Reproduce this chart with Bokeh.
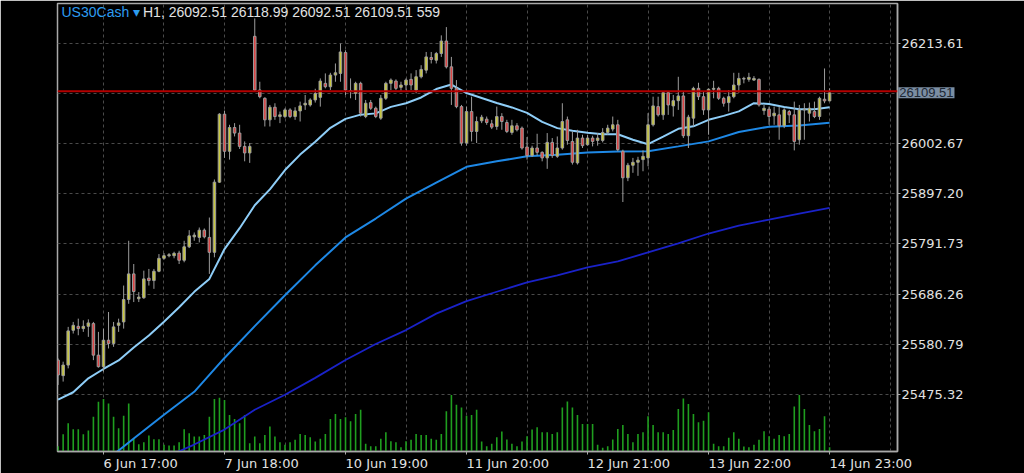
from bokeh.plotting import figure
from bokeh.models import Range1d, FixedTicker, Label, ColumnDataSource, Span, PrintfTickFormatter
from bokeh.embed import file_html
from bokeh.resources import INLINE

# ---- US30Cash, H1 bars (bar 0 = 6 Jun 17:00) ----
bar_index = list(range(-9, 145))

opens = [25547.5, 25514.9, 25537.1, 25610.2, 25618.6, 25613.8, 25618.6, 25624.3, 25558.0,
         25533.7, 25589.4, 25582.5, 25620.7, 25627.8, 25675.0, 25728.8, 25676.5, 25678.6, 25719.8,
         25714.8, 25734.4, 25761.6, 25767.0, 25767.0, 25772.6, 25757.4, 25785.8, 25806.7, 25805.5,
         25820.7, 25805.5, 25774.1, 25921.7, 26064.6, 25986.5, 26036.6, 26024.9, 25996.9, 25983.1,
         26228.3, 26115.4, 26098.0, 26052.7, 26079.2, 26059.6, 26059.6, 26073.6, 26059.6, 26071.5,
         26084.0, 26084.0, 26094.5, 26100.0, 26129.4, 26122.3, 26146.8, 26150.3, 26194.2, 26114.0,
         26108.5, 26129.4, 26059.6, 26088.9, 26077.1, 26056.3, 26098.0, 26129.4, 26134.2, 26121.0,
         26125.9, 26137.8, 26115.4, 26143.2, 26157.2, 26183.7, 26178.1, 26192.1, 26218.4, 26164.1,
         26118.9, 26080.5, 26004.0, 26070.1, 26028.3, 26050.6, 26054.2, 26044.3, 26038.7, 26059.6,
         26047.1, 26026.2, 26040.2, 26035.3, 25995.6, 25977.5, 25993.5, 25984.4, 25972.7, 26005.3,
         25976.0, 25993.5, 26052.7, 26007.3, 25962.2, 26014.4, 26000.4, 26014.4, 26009.4, 26009.4,
         26026.2, 26033.3, 26042.3, 25986.5, 25930.9, 25957.2, 25963.5, 25969.1, 25972.7, 26042.3,
         26080.5, 26063.2, 26109.8, 26082.0, 26093.0, 26102.9, 26019.3, 26056.3, 26118.9, 26101.4,
         26073.6, 26116.9, 26118.9, 26098.0, 26088.9, 26101.4, 26125.9, 26138.4, 26137.8, 26136.3,
         26137.8, 26072.1, 26075.1, 26061.1, 26063.2, 26040.2, 26070.1, 26063.2, 26010.9, 26073.6,
         26066.7, 26070.1, 26059.6, 26096.0, 26092.51]
highs = [25551.1, 25544.2, 25617.4, 25627.8, 25634.7, 25631.2, 25633.2, 25627.8, 25606.9,
         25613.8, 25648.7, 25627.8, 25634.7, 25704.3, 25798.4, 25749.6, 25690.5, 25735.6, 25739.2,
         25739.2, 25770.5, 25772.6, 25772.6, 25775.4, 25777.5, 25798.4, 25820.7, 25815.9, 25826.3,
         25824.3, 25847.3, 25927.3, 26066.7, 26072.1, 26042.3, 26045.8, 26042.3, 26007.3, 26004.0,
         26265.9, 26132.8, 26100.1, 26084.0, 26087.6, 26070.1, 26077.1, 26077.1, 26079.2, 26091.0,
         26105.0, 26098.0, 26118.0, 26139.8, 26150.3, 26151.6, 26171.2, 26213.0, 26199.0, 26139.8,
         26132.8, 26132.8, 26094.5, 26094.5, 26080.5, 26105.0, 26132.8, 26139.8, 26137.8, 26132.8,
         26139.8, 26150.3, 26157.2, 26167.6, 26195.4, 26195.4, 26195.4, 26230.3, 26247.7, 26185.0,
         26136.3, 26084.0, 26080.5, 26101.4, 26059.6, 26063.2, 26059.6, 26052.7, 26080.5, 26066.7,
         26052.7, 26052.7, 26045.8, 26038.7, 26016.5, 25998.4, 26023.4, 25986.5, 26024.9, 26014.4,
         26017.8, 26087.6, 26059.6, 26028.3, 26031.8, 26021.4, 26021.4, 26019.3, 26024.9, 26035.3,
         26042.3, 26059.6, 26052.7, 25990.0, 25962.2, 25972.7, 25975.0, 25988.5, 26066.7, 26101.4,
         26101.4, 26111.9, 26111.9, 26105.0, 26143.2, 26111.9, 26063.2, 26122.3, 26130.7, 26111.9,
         26118.9, 26134.8, 26122.3, 26101.4, 26115.4, 26151.6, 26151.6, 26143.2, 26151.6, 26144.7,
         26139.8, 26084.0, 26080.5, 26080.5, 26080.5, 26077.1, 26073.6, 26091.0, 26084.0, 26087.6,
         26088.9, 26091.0, 26101.4, 26160.7, 26118.99]
lows = [25495.3, 25502.4, 25530.2, 25603.4, 25599.8, 25606.9, 25596.4, 25547.5, 25531.7,
        25523.3, 25572.0, 25575.5, 25606.9, 25613.8, 25666.0, 25669.6, 25669.6, 25676.5, 25704.3,
        25697.4, 25732.3, 25758.6, 25763.7, 25761.6, 25749.6, 25753.2, 25783.1, 25798.4, 25795.0,
        25803.4, 25728.8, 25763.7, 25920.4, 25972.7, 25969.1, 26017.8, 25991.5, 25965.5, 25962.2,
        26111.2, 26098.0, 26038.7, 26038.7, 26052.7, 26045.8, 26056.3, 26056.3, 26052.7, 26049.2,
        26073.6, 26080.5, 26089.0, 26080.5, 26118.9, 26115.4, 26132.8, 26132.8, 26104.9, 26098.0,
        26094.5, 26059.6, 26056.3, 26073.6, 26056.3, 26052.7, 26094.5, 26115.4, 26115.4, 26113.9,
        26115.4, 26115.4, 26108.5, 26139.8, 26150.3, 26171.2, 26171.2, 26185.0, 26160.7, 26084.0,
        26077.1, 25998.4, 25998.4, 26007.3, 26004.0, 26045.8, 26042.3, 26033.3, 26031.8, 26031.8,
        26024.9, 26021.4, 26028.3, 25990.0, 25969.1, 25974.7, 25977.5, 25965.5, 25949.7, 25972.7,
        25972.7, 25990.0, 26000.4, 25958.7, 25958.7, 25993.5, 25998.4, 25996.9, 25998.4, 26005.3,
        26021.4, 26028.3, 25986.5, 25879.9, 25923.8, 25941.3, 25935.0, 25944.6, 25955.1, 26038.7,
        26059.6, 26052.7, 26063.2, 26059.6, 26073.6, 26014.4, 25993.5, 26038.7, 26094.5, 26063.2,
        26021.4, 26098.0, 26094.5, 26080.5, 26070.1, 26098.0, 26109.8, 26129.4, 26132.8, 26134.8,
        26080.5, 26063.2, 26042.3, 26042.3, 26010.9, 26035.3, 26045.8, 25988.5, 26000.4, 26010.9,
        26049.2, 26056.3, 26052.7, 26087.6, 26092.51]
closes = [25516.2, 25537.1, 25609.0, 25620.7, 25613.8, 25618.6, 25625.7, 25558.0, 25533.7,
          25589.4, 25582.5, 25617.4, 25625.7, 25675.0, 25728.8, 25691.8, 25680.0, 25718.3, 25714.8,
          25734.4, 25761.6, 25767.0, 25769.1, 25772.0, 25757.4, 25785.8, 25808.8, 25810.3, 25820.7,
          25806.7, 25774.1, 25921.7, 26064.6, 25986.5, 26036.6, 26024.9, 25996.9, 25983.1, 25996.9,
          26115.4, 26101.4, 26052.7, 26079.2, 26059.6, 26063.2, 26073.6, 26059.6, 26071.5, 26082.0,
          26087.6, 26094.5, 26108.0, 26134.2, 26122.3, 26146.8, 26151.6, 26195.4, 26115.4, 26112.0,
          26129.4, 26066.7, 26087.6, 26077.1, 26059.6, 26098.0, 26129.4, 26136.3, 26118.9, 26125.9,
          26136.3, 26125.9, 26143.2, 26158.7, 26185.0, 26179.6, 26192.1, 26218.4, 26164.1, 26118.9,
          26080.5, 26004.0, 26070.1, 26028.3, 26049.2, 26058.3, 26047.1, 26037.4, 26059.6, 26049.2,
          26028.3, 26040.2, 26031.8, 25993.5, 25977.5, 25993.5, 25984.4, 25972.7, 26005.3, 25977.5,
          25993.5, 26049.2, 26009.4, 25963.5, 26014.4, 25998.4, 26014.4, 26007.3, 26014.4, 26026.2,
          26035.3, 26042.3, 25990.0, 25930.9, 25957.2, 25963.5, 25968.0, 25976.0, 26042.3, 26082.0,
          26063.2, 26109.8, 26084.0, 26093.0, 26102.9, 26019.3, 26058.3, 26118.9, 26101.4, 26073.6,
          26116.9, 26118.9, 26098.0, 26087.6, 26101.4, 26125.9, 26139.8, 26139.8, 26142.0, 26139.8,
          26084.0, 26077.1, 26059.6, 26066.7, 26040.2, 26073.6, 26063.2, 26007.3, 26073.6, 26075.1,
          26077.1, 26059.6, 26098.0, 26092.51, 26109.51]
tick_volume = [700, 2250, 3680, 2900, 2900, 2250, 2730, 4550, 6500,
               6850, 6280, 4550, 3030, 4680, 6280, 1730, 950, 1210,
               2080, 1600, 1600, 870, 780, 780, 1210, 2900, 2380,
               1950, 1950, 2170, 4550, 6850, 7020, 6720, 4770, 4250,
               3680, 4770, 1080, 1950, 1080, 2170, 3250, 1950, 1210,
               870, 1210, 1520, 2300, 2170, 1860, 1300, 1650, 2300,
               4250, 4900, 4250, 4460, 3940, 4900, 5460, 1000, 690,
               690, 1650, 2510, 1340, 1210, 560, 1340, 1520, 2300,
               2170, 2170, 1650, 1520, 2300, 5240, 7370, 6110, 5760,
               4680, 4770, 5460, 1300, 690, 1000, 1860, 2600, 1560,
               1000, 690, 1300, 1990, 2860, 3160, 2510, 2510, 2300,
               2510, 5760, 6540, 5760, 4770, 3600, 3600, 3600, 870,
               480, 690, 1560, 2950, 3470, 2300, 1210, 2300, 2510,
               4590, 3470, 2510, 2510, 2300, 2820, 5550, 6930, 6200,
               4900, 3810, 4030, 5110, 1000, 690, 690, 1780, 2510,
               1650, 650, 560, 870, 1520, 2640, 1990, 1650, 2170,
               1990, 2300, 5890, 7370, 5550, 3470, 2640, 2950, 4590,
               559]

# moving averages, sampled on bar indices
fast_ma_bars = list(range(-9, 145, 3))
fast_ma = [25464.4, 25480.0, 25509.3, 25528.9, 25546.9, 25574.1, 25599.2, 25628.4, 25658.7,
           25691.1, 25718.3, 25781.0, 25824.9, 25873.0, 25906.4, 25947.2, 25979.6, 26006.7,
           26036.0, 26054.8, 26063.6, 26066.3, 26079.9, 26087.6, 26099.7, 26117.5, 26126.9,
           26109.1, 26098.7, 26088.2, 26078.8, 26067.3, 26048.5, 26035.3, 26029.7, 26025.5,
           26022.4, 26022.4, 26010.9, 26001.5, 26017.2, 26033.9, 26039.1, 26052.7, 26061.1,
           26070.5, 26087.6, 26086.1, 26079.9, 26075.1, 26075.1, 26079.2]
mid_ma_bars = [2] + list(range(6, 145, 6))
mid_ma = [25349.1, 25382.6, 25432.8, 25480.9, 25552.1, 25619.1, 25684.0, 25746.8, 25805.4,
          25845.2, 25887.0, 25920.5, 25954.0, 25965.5, 25976.0, 25979.1, 25983.9, 25986.0,
          25986.5, 25996.9, 26007.4, 26027.3, 26038.4, 26040.9, 26046.8]
slow_ma_bars = [14] + list(range(18, 145, 6))
slow_ma = [25351.1, 25370.0, 25401.4, 25443.2, 25474.7, 25510.2, 25547.9, 25581.4, 25610.7,
           25645.2, 25671.4, 25691.3, 25711.2, 25725.8, 25742.6, 25755.2, 25774.0, 25792.8,
           25813.7, 25830.5, 25843.0, 25855.6, 25867.6]

time_ticks = [0, 24, 48, 72, 96, 120, 144]
time_labels = ["6 Jun 17:00", "7 Jun 18:00", "10 Jun 19:00", "11 Jun 20:00",
               "12 Jun 21:00", "13 Jun 22:00", "14 Jun 23:00"]
price_levels = [25475.32, 25580.79, 25686.26, 25791.73, 25897.20, 26002.67, 26108.14, 26213.61]
bid_price = 26109.51
ask_price = 26112.9
symbol = "US30Cash"
header_values = "H1, 26092.51 26118.99 26092.51 26109.51 559"

BG = "#000000"
GRID = "#4a4a4a"
FRAME = "#a9a9a9"
WICK = "#9c9c9c"
BULL = "#c9c83e"
BEAR = "#dc4545"
TEXT = "#e2e2e2"

X_START, X_END = -9.12, 157.47
FRAME_W = 840
bar_px = FRAME_W / (X_END - X_START)

p = figure(width=1024, height=473, output_backend="svg", toolbar_location=None,
           x_range=Range1d(X_START, X_END), y_range=Range1d(25355.4, 26297.3),
           y_axis_location="right",
           min_border_left=57, min_border_right=127, min_border_top=3, min_border_bottom=20,
           background_fill_color=BG, border_fill_color=BG,
           outline_line_color=FRAME, outline_line_width=1.5)

p.extra_y_ranges = {"vol": Range1d(0, 58500)}

# grid
p.xgrid.ticker = FixedTicker(ticks=list(range(0, 157, 12)))
p.ygrid.ticker = FixedTicker(ticks=price_levels)
for g in (p.xgrid, p.ygrid):
    g.grid_line_color = GRID
    g.grid_line_dash = "3 3"
    g.grid_line_width = 1

# time axis: labels start at their bar (the axis centres labels, so shift
# the label anchor by half the text width; the tick marks stay on the bar)
AXIS_FONT_PX = 13
em = {"0": 0.636, "1": 0.636, "2": 0.636, "3": 0.636, "4": 0.636, "5": 0.636, "6": 0.636,
      "7": 0.636, "8": 0.636, "9": 0.636, " ": 0.318, "J": 0.295, "u": 0.634, "n": 0.634,
      ":": 0.337}
def text_width(s):
    return AXIS_FONT_PX * sum(em.get(ch, 0.6) for ch in s)

label_anchor = [round(t + text_width(s) / 2 / bar_px, 3) for t, s in zip(time_ticks, time_labels)]
p.xaxis.ticker = FixedTicker(ticks=label_anchor, minor_ticks=time_ticks)
p.xaxis.major_label_overrides = {a: s for a, s in zip(label_anchor, time_labels)}
p.xaxis.major_tick_line_color = None
p.xaxis.minor_tick_line_color = FRAME
p.xaxis.minor_tick_in = 0
p.xaxis.minor_tick_out = 3

p.yaxis.ticker = FixedTicker(ticks=[v for v in price_levels if abs(v - bid_price) > 5])
p.yaxis.formatter = PrintfTickFormatter(format="%.2f")
p.yaxis.major_tick_line_color = FRAME
p.yaxis.minor_tick_line_color = None
for ax in (p.xaxis, p.yaxis):
    ax.axis_line_color = FRAME
    ax.axis_line_width = 1.5
    ax.major_tick_in = 0
    ax.major_tick_out = 3
    ax.major_label_text_color = TEXT
    ax.major_label_text_font = "DejaVu Sans"
    ax.major_label_text_font_size = f"{AXIS_FONT_PX}px"
    ax.major_label_standoff = 1

# volumes
p.segment(x0=bar_index, y0=[0] * len(bar_index), x1=bar_index, y1=tick_volume,
          y_range_name="vol", line_color="#1f9e1f", line_width=1.6)

# moving averages
p.line(slow_ma_bars, slow_ma, line_color="#1a22c8", line_width=1.8)
p.line(mid_ma_bars, mid_ma, line_color="#1e88e5", line_width=2)
p.line(fast_ma_bars, fast_ma, line_color="#8ecdf7", line_width=2)

# candles
colors = [BULL if c >= o else BEAR for o, c in zip(opens, closes)]
src = ColumnDataSource(dict(x=bar_index, o=opens, h=highs, l=lows, c=closes, col=colors,
                            top=[max(o, c) for o, c in zip(opens, closes)],
                            bot=[min(o, c) for o, c in zip(opens, closes)]))
p.segment(x0="x", y0="h", x1="x", y1="l", source=src, line_color=WICK, line_width=1)
p.vbar(x="x", top="top", bottom="bot", width=0.5, source=src,
       fill_color="col", line_color=WICK, line_width=1)

# ask line
p.add_layout(Span(location=ask_price, dimension="width", line_color="#b40000", line_width=2))

# header
p.add_layout(Label(x=4, y=440, x_units="screen", y_units="screen", text=symbol + " \u25be",
                   text_color="#2d9cf0", text_font="Liberation Sans",
                   text_font_size="14px", text_baseline="middle"))
p.add_layout(Label(x=85.5, y=440, x_units="screen", y_units="screen", text=header_values,
                   text_color=TEXT, text_font="Liberation Sans",
                   text_font_size="14px", text_baseline="middle"))

# last bid tag on the price scale (side panel, so it is not clipped to the frame;
# a compact face keeps the panel inside the right border)
p.add_layout(Label(x=X_END + 0.15, y=bid_price, text=f"{bid_price:.2f}",
                   text_color="#1c2733", text_font="Liberation Sans", text_font_size="13px",
                   text_align="left", text_baseline="middle",
                   background_fill_color="#7b8ea3", border_line_color=None, padding=1),
             "right")

open("out.html", "w").write(file_html(p, INLINE))
